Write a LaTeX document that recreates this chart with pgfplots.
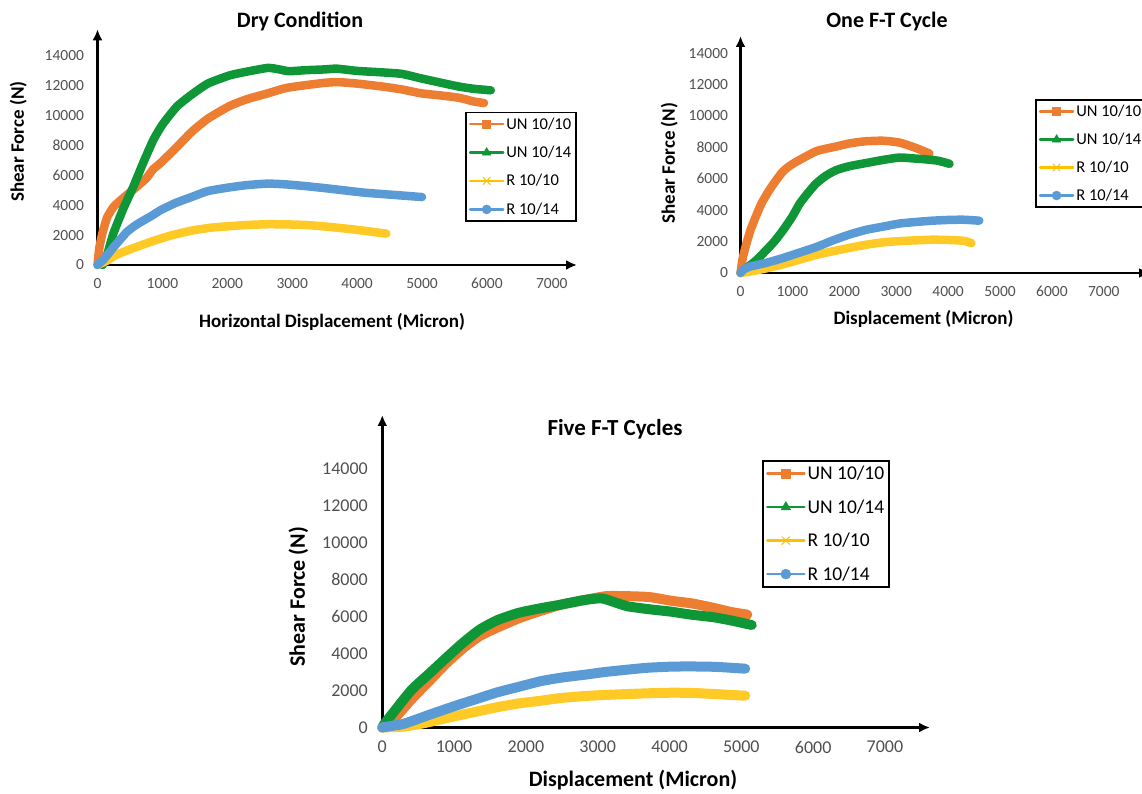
\documentclass[border=0pt]{standalone}
\usepackage{fontspec}
\setmainfont{Carlito}
\usepackage{pgfplots}
\pgfplotsset{compat=1.18}
\usetikzlibrary{arrows.meta}
\definecolor{cOr}{HTML}{ED7D31}
\definecolor{cGr}{RGB}{15,150,55}
\definecolor{cYe}{HTML}{FFC000}
\definecolor{cBl}{HTML}{5B9BD5}
\definecolor{tickgray}{HTML}{505050}
\pgfplotsset{
 panel/.style={
  scale only axis, axis lines=left, enlargelimits=false, clip=false,
  xmin=0, ymin=0,
  xtick={0,1000,...,7000}, ytick={0,2000,...,14000},
  scaled ticks=false,
  major tick length=0pt,
  /pgf/number format/1000 sep={},
  /pgf/number format/assume math mode=true,
  axis line style={line width=2.4pt, black},
  x axis line style={-{Latex[length=11pt,width=10pt]}},
  y axis line style={-{Latex[length=11pt,width=10pt]}},
  tick label style={text=tickgray},
  legend cell align=left,
  legend image code/.code={\draw[mark repeat=2,mark phase=2,##1] plot coordinates {(0pt,0pt) (16.5pt,0pt) (33pt,0pt)};},
  every axis plot/.append style={line join=round, line cap=round, smooth, tension=0.35},
 },
 lgOr/.style={cOr, line width=2.5pt, mark=square*, mark size=4pt, mark options={solid, line width=0.5pt}},
 lgGr/.style={cGr, line width=2.5pt, mark=triangle*, mark size=5pt, mark options={solid, line width=0.5pt}},
 lgYe/.style={cYe, line width=2.5pt, mark=x, mark size=5pt, mark options={solid, line width=1pt}},
 lgBl/.style={cBl, line width=2.5pt, mark=*, mark size=4.5pt, mark options={solid, line width=0.5pt}},
}
\begin{document}
\begin{tikzpicture}
\useasboundingbox (0,0) rectangle (1142pt,793pt);
% ---------------- Panel 1: Dry Condition ----------------
\begin{axis}[panel, at={(97.5pt,528pt)}, anchor=south west,
  width=479.5pt, height=235.7pt, xmax=7388, ymax=15787,
  tick label style={font=\fontsize{15.5}{18}\selectfont},
  xticklabel style={yshift=-10pt}, yticklabel style={xshift=-10pt},
  legend style={at={(0.7664,0.6504)}, anchor=north west, draw=black, line width=1.8pt,
    font=\fontsize{16.5}{19}\selectfont, inner sep=3pt, row sep=11.5pt}]
\addplot[cOr, line width=8.5pt, forget plot] coordinates {(0,0) (30,1200) (80,2200) (150,3200) (250,3900) (400,4500) (552,5050) (750,5800) (855,6400) (963,6800) (1200,7800) (1447,8900) (1700,9800) (2036,10650) (2300,11100) (2626,11500) (2900,11850) (3214,12050) (3500,12200) (3700,12250) (4000,12150) (4395,11950) (4700,11750) (4985,11500) (5300,11350) (5570,11200) (5800,10950) (5955,10850)};
\addplot[cGr, line width=8.5pt, forget plot] coordinates {(80,0) (150,700) (244,2100) (400,3800) (552,5245) (700,6800) (860,8372) (1000,9400) (1220,10600) (1447,11400) (1700,12150) (2036,12700) (2300,12950) (2626,13200) (2800,13100) (2950,12980) (3214,13050) (3500,13100) (3687,13150) (4000,13000) (4395,12900) (4690,12800) (4985,12500) (5300,12200) (5570,11950) (5800,11800) (6060,11700)};
\addplot[cYe!85!white, line width=8.5pt, forget plot] coordinates {(0,0) (150,300) (300,700) (563,1150) (855,1600) (1150,2000) (1447,2300) (1750,2500) (2036,2600) (2300,2680) (2626,2730) (2900,2720) (3214,2680) (3500,2580) (3800,2450) (4100,2300) (4450,2100)};
\addplot[cBl, line width=8.5pt, forget plot] coordinates {(0,0) (100,400) (250,1200) (450,2200) (600,2700) (855,3350) (963,3650) (1200,4150) (1447,4550) (1700,4950) (2036,5200) (2300,5350) (2626,5450) (2900,5400) (3214,5280) (3500,5150) (3800,5000) (4100,4850) (4395,4750) (4700,4650) (5000,4550)};
\addlegendimage{lgOr}\addlegendentry{UN 10/10}
\addlegendimage{lgGr}\addlegendentry{UN 10/14}
\addlegendimage{lgYe}\addlegendentry{R 10/10}
\addlegendimage{lgBl}\addlegendentry{R 10/14}
\end{axis}
% ---------------- Panel 2: One F-T Cycle ----------------
\begin{axis}[panel, at={(740.5pt,520pt)}, anchor=south west,
  width=409.5pt, height=237pt, xmax=7890, ymax=15086,
  tick label style={font=\fontsize{15.5}{18}\selectfont},
  xticklabel style={yshift=-9.5pt}, yticklabel style={xshift=-9pt},
  legend style={at={(0.719,0.733)}, anchor=north west, draw=black, line width=1.8pt,
    font=\fontsize{16.5}{19}\selectfont, inner sep=3pt, row sep=11pt}]
\addplot[cOr, line width=8.5pt, forget plot] coordinates {(0,0) (40,900) (100,1700) (200,2800) (400,4400) (600,5500) (815,6450) (1008,6950) (1458,7750) (1844,8050) (2100,8250) (2400,8380) (2742,8420) (3064,8300) (3385,7950) (3642,7600)};
\addplot[cGr, line width=8.5pt, forget plot] coordinates {(0,0) (110,300) (300,800) (495,1450) (650,2000) (815,2700) (1000,3600) (1137,4400) (1300,5100) (1458,5700) (1650,6200) (1844,6550) (2100,6800) (2421,7000) (2750,7200) (3064,7350) (3300,7300) (3513,7250) (3800,7150) (4027,6950)};
\addplot[cYe!85!white, line width=8.5pt, forget plot] coordinates {(0,0) (200,100) (500,300) (815,550) (1137,850) (1458,1150) (1800,1400) (2100,1600) (2421,1800) (2742,1950) (3064,2030) (3385,2080) (3700,2120) (4027,2100) (4300,2050) (4450,1900)};
\addplot[cBl, line width=8.5pt, forget plot] coordinates {(0,0) (50,200) (173,400) (500,650) (815,950) (1137,1300) (1458,1650) (1800,2100) (2100,2450) (2421,2750) (2742,2950) (3064,3150) (3385,3250) (3700,3330) (4027,3380) (4300,3390) (4600,3330)};
\addlegendimage{lgOr}\addlegendentry{UN 10/10}
\addlegendimage{lgGr}\addlegendentry{UN 10/14}
\addlegendimage{lgYe}\addlegendentry{R 10/10}
\addlegendimage{lgBl}\addlegendentry{R 10/14}
\end{axis}
% ---------------- Panel 3: Five F-T Cycles ----------------
\begin{axis}[panel, at={(382.3pt,65.5pt)}, anchor=south west,
  width=547.7pt, height=312.5pt, xmax=7628, ymax=16892,
  tick label style={font=\fontsize{18}{21}\selectfont},
  xticklabel style={yshift=-10pt}, yticklabel style={xshift=-11pt},
  legend style={at={(0.6934,0.856)}, anchor=north west, draw=black, line width=2pt,
    font=\fontsize{19.5}{23}\selectfont, inner sep=3pt, row sep=14.5pt},
  legend image code/.code={\draw[mark repeat=2,mark phase=2,#1] plot coordinates {(0pt,0pt) (18.5pt,0pt) (37pt,0pt)};}]
\addplot[cOr, line width=10pt, forget plot] coordinates {(0,0) (150,400) (400,1500) (650,2500) (900,3500) (1130,4300) (1360,4950) (1600,5400) (1900,5900) (2200,6300) (2500,6650) (2814,6890) (3116,7100) (3400,7100) (3722,7050) (4025,6850) (4325,6700) (4631,6450) (4850,6250) (5083,6100)};
\addplot[cGr, line width=10pt, forget plot] coordinates {(0,0) (50,300) (400,2000) (650,2900) (900,3800) (1130,4600) (1360,5300) (1600,5800) (1900,6200) (2209,6450) (2500,6650) (2814,6890) (3056,6980) (3250,6750) (3419,6550) (3700,6400) (4025,6260) (4300,6100) (4631,5950) (4900,5750) (5145,5540)};
\addplot[cYe!85!white, line width=10pt, forget plot] coordinates {(0,0) (300,50) (600,250) (1000,600) (1300,850) (1603,1100) (1900,1300) (2209,1450) (2500,1600) (2814,1700) (3100,1760) (3419,1810) (3700,1850) (4025,1880) (4300,1870) (4631,1810) (4850,1760) (5055,1720)};
\addplot[cBl, line width=10pt, forget plot] coordinates {(0,0) (150,100) (300,200) (700,750) (1000,1150) (1360,1600) (1600,1900) (1900,2200) (2200,2500) (2500,2700) (2814,2850) (3100,3000) (3419,3130) (3700,3230) (4025,3290) (4300,3300) (4631,3280) (4850,3230) (5055,3180)};
\addlegendimage{lgOr, mark size=4.5pt}\addlegendentry{UN 10/10}
\addlegendimage{lgGr, mark size=5.5pt}\addlegendentry{UN 10/14}
\addlegendimage{lgYe, mark size=5.5pt}\addlegendentry{R 10/10}
\addlegendimage{lgBl, mark size=5pt}\addlegendentry{R 10/14}
\end{axis}
% ---------------- Titles and axis labels ----------------
\node[font=\fontsize{22}{26}\selectfont\bfseries] at (300pt,771.3pt) {Dry Condition};
\node[font=\fontsize{22}{26}\selectfont\bfseries] at (887pt,771.3pt) {One F-T Cycle};
\node[font=\fontsize{23}{27}\selectfont\bfseries] at (615pt,363.7pt) {Five F-T Cycles};
\node[font=\fontsize{19}{22}\selectfont\bfseries] at (332pt,471pt) {Horizontal Displacement (Micron)};
\node[font=\fontsize{19}{22}\selectfont\bfseries] at (923.5pt,474pt) {Displacement (Micron)};
\node[font=\fontsize{22}{26}\selectfont\bfseries] at (633pt,13pt) {Displacement (Micron)};
\node[font=\fontsize{19}{22}\selectfont\bfseries, rotate=90] at (18.3pt,651.3pt) {Shear Force (N)};
\node[font=\fontsize{19}{22}\selectfont\bfseries, rotate=90] at (669.3pt,630pt) {Shear Force (N)};
\node[font=\fontsize{22}{26}\selectfont\bfseries, rotate=90] at (298.3pt,196.3pt) {Shear Force (N)};
\end{tikzpicture}
\end{document}
